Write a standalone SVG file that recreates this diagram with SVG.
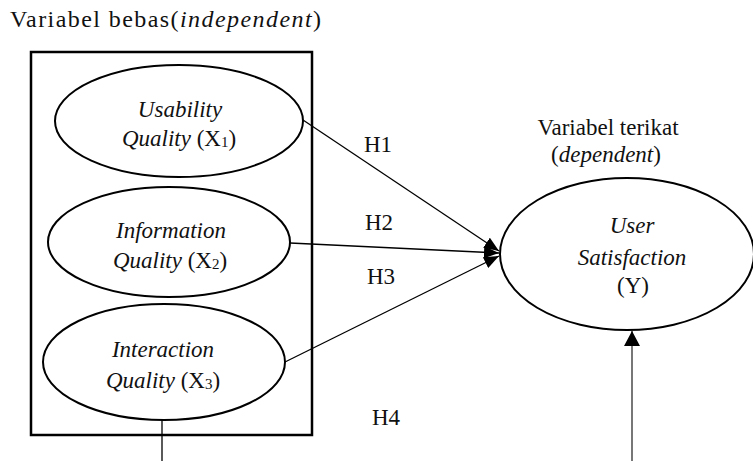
<svg xmlns="http://www.w3.org/2000/svg" width="753" height="461" viewBox="0 0 753 461">
  <style>
    text { font-family: "Liberation Serif", "Times New Roman", serif; fill: #111; }
    .t { font-size: 23px; }
    .it { font-style: italic; }
    .node { fill: #fff; stroke: #000; stroke-width: 2; }
    .conn { stroke: #000; stroke-width: 1.3; fill: none; }
    .sub { font-size: 15px; }
  </style>
  <defs>
    <marker id="ah" markerUnits="userSpaceOnUse" markerWidth="16" markerHeight="12" refX="15" refY="6" orient="auto">
      <path d="M0,0 L15,6 L0,12 Z" fill="#000"/>
    </marker>
    <marker id="ah2" markerUnits="userSpaceOnUse" markerWidth="16" markerHeight="16" refX="15" refY="8" orient="auto">
      <path d="M0,0 L15,8 L0,16 Z" fill="#000"/>
    </marker>
  </defs>
  <rect width="753" height="461" fill="#fff"/>

  <text x="10" y="27" font-size="24" textLength="311" lengthAdjust="spacing">Variabel bebas(<tspan class="it">independent</tspan>)</text>

  <g id="box">
    <rect x="31" y="52" width="281" height="383" fill="none" stroke="#000" stroke-width="2.5"/>
  </g>

  <g id="x1">
    <ellipse class="node" cx="179" cy="121" rx="124" ry="56"/>
    <text class="t it" x="180" y="117" text-anchor="middle">Usability</text>
    <text class="t" x="179" y="146" text-anchor="middle"><tspan class="it">Quality</tspan> (X<tspan class="sub" dy="1">1</tspan><tspan dy="-1">)</tspan></text>
  </g>

  <g id="x2">
    <ellipse class="node" cx="169" cy="242" rx="121" ry="55"/>
    <text class="t it" x="171" y="238" text-anchor="middle">Information</text>
    <text class="t" x="170" y="268" text-anchor="middle"><tspan class="it">Quality</tspan> (X<tspan class="sub" dy="1">2</tspan><tspan dy="-1">)</tspan></text>
  </g>

  <g id="x3">
    <ellipse class="node" cx="164" cy="362" rx="121" ry="58"/>
    <text class="t it" x="163" y="357" text-anchor="middle">Interaction</text>
    <text class="t" x="163" y="388" text-anchor="middle"><tspan class="it">Quality</tspan> (X<tspan class="sub" dy="1">3</tspan><tspan dy="-1">)</tspan></text>
  </g>

  <g id="y">
    <ellipse class="node" cx="627" cy="254" rx="127" ry="76"/>
    <text class="t it" x="632" y="233" text-anchor="middle">User</text>
    <text class="t it" x="632" y="265" text-anchor="middle">Satisfaction</text>
    <text class="t" x="633" y="293" text-anchor="middle">(Y)</text>
  </g>

  <g id="labels">
    <text class="t" x="608" y="135" text-anchor="middle">Variabel terikat</text>
    <text class="t" x="606" y="162" text-anchor="middle">(<tspan class="it">dependent</tspan>)</text>
    <text class="t" x="364" y="152">H1</text>
    <text class="t" x="365" y="230">H2</text>
    <text class="t" x="367" y="284">H3</text>
    <text class="t" x="372" y="425">H4</text>
  </g>

  <g id="connectors">
    <line class="conn" x1="303" y1="120" x2="499" y2="251" marker-end="url(#ah)"/>
    <line class="conn" x1="290" y1="243" x2="499" y2="253" marker-end="url(#ah)"/>
    <line class="conn" x1="285" y1="362" x2="499" y2="256" marker-end="url(#ah)"/>
    <line class="conn" x1="162" y1="420" x2="162" y2="461"/>
    <line x1="632" y1="461" x2="632" y2="331" stroke="#777" stroke-width="2" marker-end="url(#ah2)"/>
  </g>
</svg>
